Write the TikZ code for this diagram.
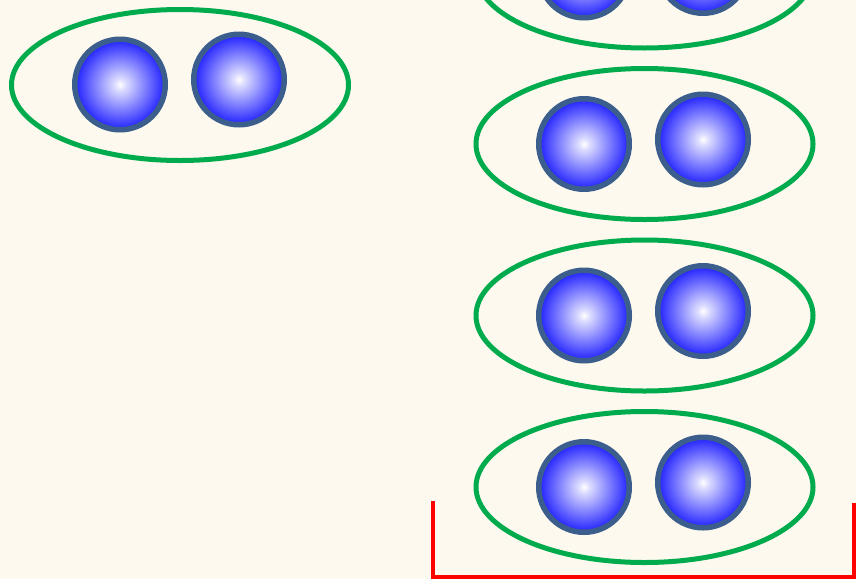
\documentclass[tikz,border=0pt]{standalone}
\usetikzlibrary{shapes.geometric}
\definecolor{paper}{HTML}{FDF9EE}
\definecolor{ringgreen}{HTML}{00AB4E}
\definecolor{ballrim}{HTML}{3B5E8C}
\definecolor{ballblue}{HTML}{2020FF}
\pgfdeclareradialshading{sphereglow}{\pgfpoint{0bp}{0bp}}{%
  color(0bp)=(white); color(3bp)=(white!85!ballblue); color(25bp)=(ballblue); color(50bp)=(ballblue)}
\tikzset{
  pair/.style={ellipse, draw=ringgreen, line width=5pt, inner sep=0pt,
    minimum width=337pt, minimum height=151pt},
  ball/.style={circle, draw=ballrim, line width=5.5pt, inner sep=0pt,
    minimum size=90.5pt, shading=sphereglow},
  bracket/.style={draw=red, line width=4pt, line join=miter}
}
\begin{document}
\begin{tikzpicture}[x=1pt,y=-1pt]
  \fill[paper] (0,0) rectangle (856,579);
  \useasboundingbox (0,0) rectangle (856,579);
  \clip (0,0) rectangle (856,579);

  % lone pair on the left
  \node[pair] (e0) at (180,85) {};
  \node[ball] (a0) at (120,84.5) {};
  \node[ball] (b0) at (239,79.5) {};

  % column of pairs on the right
  \foreach \k/\yc in {1/-27.5, 2/144, 3/315.5, 4/487} {
    \node[pair] (e\k) at (644.5,\yc) {};
    \node[ball] (a\k) at (584,\yc) {};
    \node[ball] (b\k) at (703,\yc-4.5) {};
  }

  % open container under the last pair
  \coordinate (cl) at (432.5,501);
  \coordinate (cr) at (853.5,503);
  \coordinate (bl) at (432.5,576.5);
  \coordinate (br) at (853.5,576.5);
  \draw[bracket] (cl) -- (bl) -- (br) -- (cr);
\end{tikzpicture}
\end{document}
